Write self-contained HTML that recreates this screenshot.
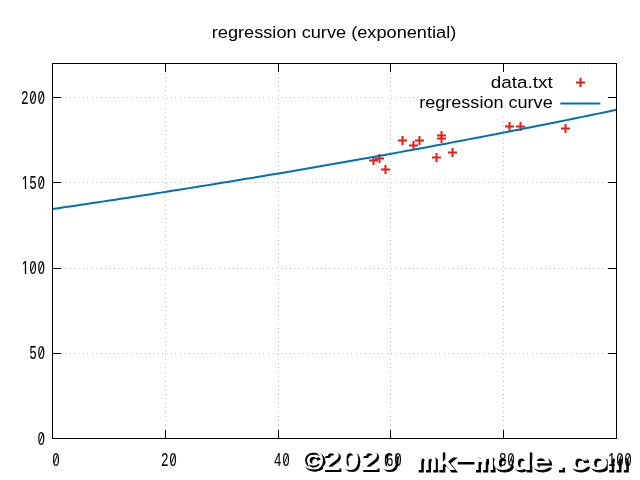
<!DOCTYPE html>
<html lang="en">
<head>
<meta charset="utf-8">
<title>regression curve (exponential)</title>
<style>
html,body{margin:0;padding:0;background:#fff;}
body{width:640px;height:480px;overflow:hidden;font-family:"Liberation Sans",sans-serif;}
svg{display:block;}
.t{font-family:"Liberation Sans",sans-serif;fill:#000;}
.w{font-family:"Liberation Mono",monospace;font-weight:bold;}
</style>
</head>
<body>
<svg width="640" height="480" viewBox="0 0 640 480">
<rect width="640" height="480" fill="#fff"/>
<!-- dotted grid -->
<g stroke="#000" stroke-width="0.6" stroke-dasharray="0.4 4" fill="none">
<path d="M52.5 353.5H616.5"/>
<path d="M52.5 268.5H616.5"/>
<path d="M52.5 182.5H616.5"/>
<path d="M52.5 97.5H424"/>
<path d="M165.5 438.5V63.5"/>
<path d="M278.5 438.5V63.5"/>
<path d="M390.5 438.5V63.5"/>
<path d="M503.5 438.5V116"/>
</g>
<!-- tick marks -->
<path d="M52.5 438.5h8.5M616.5 438.5h-8.5M52.5 353.5h8.5M616.5 353.5h-8.5M52.5 268.5h8.5M616.5 268.5h-8.5M52.5 182.5h8.5M616.5 182.5h-8.5M52.5 97.5h8.5M616.5 97.5h-8.5M52.5 438.5v-8.5M52.5 63.5v8.5M165.5 438.5v-8.5M165.5 63.5v8.5M278.5 438.5v-8.5M278.5 63.5v8.5M390.5 438.5v-8.5M390.5 63.5v8.5M503.5 438.5v-8.5M503.5 63.5v8.5M616.5 438.5v-8.5M616.5 63.5v8.5" stroke="#000" stroke-width="1" fill="none"/>
<!-- data points -->
<path d="M369.0 160.5h9.0M373.5 156.0v9.0M375.0 158.5h9.0M379.5 154.0v9.0M381.0 169.5h9.0M385.5 165.0v9.0M398.0 140.5h9.0M402.5 136.0v9.0M409.0 145.5h9.0M413.5 141.0v9.0M415.0 140.5h9.0M419.5 136.0v9.0M432.0 157.5h9.0M436.5 153.0v9.0M437.0 135.5h9.0M441.5 131.0v9.0M437.0 138.5h9.0M441.5 134.0v9.0M448.0 152.5h9.0M452.5 148.0v9.0M505.0 126.5h9.0M509.5 122.0v9.0M516.0 126.5h9.0M520.5 122.0v9.0M561.0 128.5h9.0M565.5 124.0v9.0M576.0 82.5h9.0M580.5 78.0v9.0" stroke="#e51e10" stroke-width="2" fill="none"/>
<!-- regression curve -->
<path d="M52.5 209.0L58.2 208.17L63.89 207.33L69.59 206.49L75.29 205.64L80.98 204.8L86.68 203.95L92.38 203.1L98.08 202.24L103.77 201.38L109.47 200.52L115.17 199.65L120.86 198.79L126.56 197.91L132.26 197.04L137.95 196.16L143.65 195.28L149.35 194.4L155.05 193.51L160.74 192.62L166.44 191.73L172.14 190.83L177.83 189.93L183.53 189.02L189.23 188.12L194.92 187.21L200.62 186.29L206.32 185.38L212.02 184.46L217.71 183.53L223.41 182.61L229.11 181.68L234.8 180.74L240.5 179.81L246.2 178.86L251.89 177.92L257.59 176.97L263.29 176.02L268.98 175.07L274.68 174.11L280.38 173.15L286.08 172.19L291.77 171.22L297.47 170.25L303.17 169.27L308.86 168.29L314.56 167.31L320.26 166.32L325.95 165.33L331.65 164.34L337.35 163.34L343.05 162.34L348.74 161.34L354.44 160.33L360.14 159.32L365.83 158.31L371.53 157.29L377.23 156.27L382.92 155.24L388.62 154.21L394.32 153.18L400.02 152.14L405.71 151.1L411.41 150.05L417.11 149.0L422.8 147.95L428.5 146.9L434.2 145.84L439.89 144.77L445.59 143.7L451.29 142.63L456.98 141.56L462.68 140.48L468.38 139.39L474.08 138.31L479.77 137.22L485.47 136.12L491.17 135.02L496.86 133.92L502.56 132.81L508.26 131.7L513.95 130.58L519.65 129.46L525.35 128.34L531.05 127.21L536.74 126.08L542.44 124.95L548.14 123.81L553.83 122.66L559.53 121.51L565.23 120.36L570.92 119.21L576.62 118.04L582.32 116.88L588.02 115.71L593.71 114.54L599.41 113.36L605.11 112.18L610.8 110.99L616.5 109.8" stroke="#0072b2" stroke-width="2" fill="none" stroke-linejoin="round"/>
<path d="M560.3 103.5H600.3" stroke="#0072b2" stroke-width="2" fill="none"/>
<rect x="52.5" y="63.5" width="564.0" height="375.0" fill="none" stroke="#000" stroke-width="1"/>
<g style="will-change:transform">
<text class="t" x="334" y="37.8" font-size="16.8" text-anchor="middle" textLength="244.5" lengthAdjust="spacingAndGlyphs">regression curve (exponential)</text>
<text class="t" x="552.7" y="87.7" font-size="16.8" text-anchor="end" textLength="62" lengthAdjust="spacingAndGlyphs">data.txt</text>
<text class="t" x="552.7" y="108.3" font-size="16.8" text-anchor="end" textLength="133.5" lengthAdjust="spacingAndGlyphs">regression curve</text>
<use href="#wm" x="2.0" y="2.0" fill="#000" stroke="#000" stroke-width="0.8"/>
<path d="M349.38 457.5h5.6v9h-5.6zM387.51 457.5h5.6v9h-5.6z" fill="#fff"/>
<g fill="#fff"><g id="wm">
<text class="w" transform="translate(302.20 470.30) scale(1.39 1)" font-size="25.5" letter-spacing="-1.581">©</text>
<text class="w" transform="translate(321.02 469.70) scale(1.12 1)" font-size="30" letter-spacing="-0.973" stroke-width="0.2">2020</text>
<text class="w" transform="translate(415.93 469.70) scale(1.35 1)" font-size="26" letter-spacing="-1.474">mk<tspan dx="-9.42" dy="-3.0" textLength="40.97" lengthAdjust="spacingAndGlyphs">-</tspan><tspan dx="-17.42" dy="3.0">mode.com</tspan></text>
</g></g>
<text class="t" transform="translate(37.69 444.9) scale(0.66 1)" font-size="19.1" letter-spacing="1.805" stroke="#000" stroke-width="0.15">0</text>
<text class="t" transform="translate(29.49 358.9) scale(0.66 1)" font-size="19.1" letter-spacing="1.805" stroke="#000" stroke-width="0.15">50</text>
<text class="t" transform="translate(21.29 273.9) scale(0.66 1)" font-size="19.1" letter-spacing="1.805" stroke="#000" stroke-width="0.15"><tspan dx="0.83">1</tspan><tspan dx="-0.83">00</tspan></text>
<text class="t" transform="translate(21.29 188.9) scale(0.66 1)" font-size="19.1" letter-spacing="1.805" stroke="#000" stroke-width="0.15"><tspan dx="0.83">1</tspan><tspan dx="-0.83">50</tspan></text>
<text class="t" transform="translate(21.29 103.9) scale(0.66 1)" font-size="19.1" letter-spacing="1.805" stroke="#000" stroke-width="0.15">200</text>
<text class="t" transform="translate(52.40 465.7) scale(0.66 1)" font-size="19.1" letter-spacing="1.805" stroke="#000" stroke-width="0.15">0</text>
<text class="t" transform="translate(161.30 465.7) scale(0.66 1)" font-size="19.1" letter-spacing="1.805" stroke="#000" stroke-width="0.15">20</text>
<text class="t" transform="translate(274.30 465.7) scale(0.66 1)" font-size="19.1" letter-spacing="1.805" stroke="#000" stroke-width="0.15">40</text>
<text class="t" transform="translate(386.30 465.7) scale(0.66 1)" font-size="19.1" letter-spacing="1.805" stroke="#000" stroke-width="0.15">60</text>
<text class="t" transform="translate(499.30 465.7) scale(0.66 1)" font-size="19.1" letter-spacing="1.805" stroke="#000" stroke-width="0.15">80</text>
<text class="t" transform="translate(608.20 465.7) scale(0.66 1)" font-size="19.1" letter-spacing="1.805" stroke="#000" stroke-width="0.15">100</text>
<path d="M20.84 271.90h3.98v3.6h-3.98zM26.27 271.90h3.2v3.6h-3.2zM20.84 186.90h3.98v3.6h-3.98zM26.27 186.90h3.2v3.6h-3.2z" fill="#fff"/>
<path d="M39.45 442.56L42.95 433.56M39.45 356.56L42.95 347.56M31.25 271.56L34.75 262.56M39.45 271.56L42.95 262.56M39.45 186.56L42.95 177.56M31.25 101.56L34.75 92.56M39.45 101.56L42.95 92.56M54.15 463.36L57.65 454.36M171.25 463.36L174.75 454.36M284.25 463.36L287.75 454.36M396.25 463.36L399.75 454.36M509.25 463.36L512.75 454.36M618.15 463.36L621.65 454.36M626.35 463.36L629.85 454.36" stroke="#000" stroke-width="1" fill="none"/>
</g>
</svg>
</body>
</html>
